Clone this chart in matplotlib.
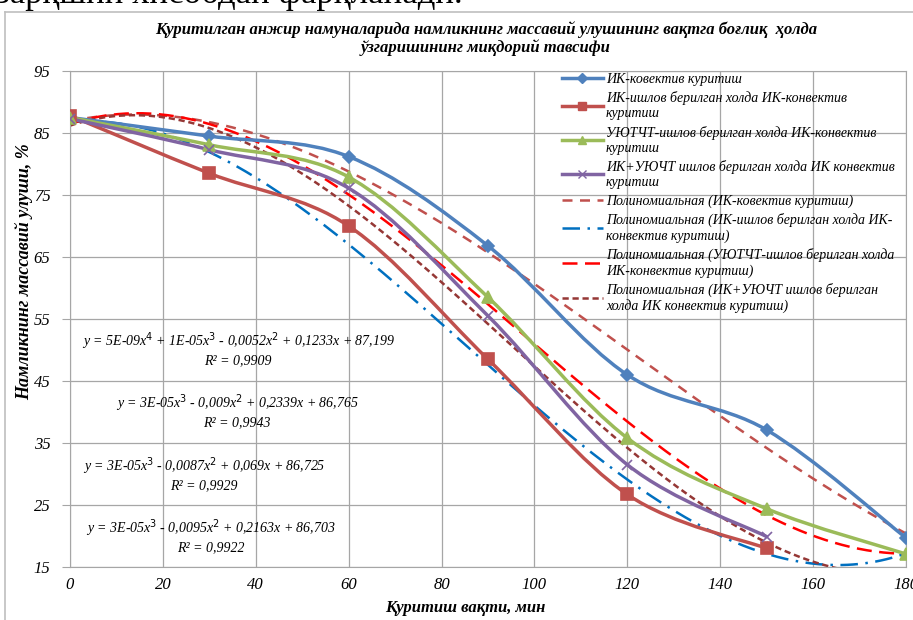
import numpy as np
import matplotlib.pyplot as plt
from matplotlib.path import Path
from matplotlib.patches import PathPatch
from matplotlib.lines import Line2D

plt.rcParams['font.family'] = ['Liberation Serif', 'DejaVu Serif']

# drying time, min
t_full = [0, 30, 60, 90, 120, 150, 180]
t_short = [0, 30, 60, 90, 120, 150]

# moisture mass fraction, %
ik_conv = [87.5, 84.5, 81.2, 66.8, 46.0, 37.1, 19.7]
ik_pre = [87.8, 78.5, 70.0, 48.5, 26.7, 18.0]
uv_pre = [87.5, 83.1, 77.9, 58.5, 35.8, 24.4, 17.1]
ik_uv_pre = [87.3, 82.3, 76.1, 55.5, 31.5, 19.9]

labels = [
    'ИК-ковектив куритиш',
    'ИК-ишлов берилган холда ИК-конвектив\nкуритиш',
    'УЮТЧТ-ишлов берилган холда ИК-конвектив\nкуритиш',
    'ИК+УЮЧТ ишлов берилган холда ИК конвектив\nкуритиш',
    'Полиномиальная (ИК-ковектив куритиш)',
    'Полиномиальная (ИК-ишлов берилган холда ИК-\nконвектив куритиш)',
    'Полиномиальная (УЮТЧТ-ишлов берилган холда\nИК-конвектив куритиш)',
    'Полиномиальная (ИК+УЮЧТ ишлов берилган\nхолда ИК конвектив куритиш)',
]

equations = [
    'y = 5E-09x$^4$ + 1E-05x$^3$ - 0,0052x$^2$ + 0,1233x + 87,199\nR² = 0,9909',
    'y = 3E-05x$^3$ - 0,009x$^2$ + 0,2339x + 86,765\nR² = 0,9943',
    'y = 3E-05x$^3$ - 0,0087x$^2$ + 0,069x + 86,725\nR² = 0,9929',
    'y = 3E-05x$^3$ - 0,0095x$^2$ + 0,2163x + 86,703\nR² = 0,9922',
]


def smooth_path(x, y):
    # excel-style smoothed line: bezier segments through the points
    pts = np.column_stack([x, y]).astype(float)
    n = len(pts)
    verts = [pts[0]]
    codes = [Path.MOVETO]
    for i in range(n - 1):
        p0 = pts[max(i - 1, 0)]
        p1 = pts[i]
        p2 = pts[i + 1]
        p3 = pts[min(i + 2, n - 1)]
        verts += [p1 + (p2 - p0) / 6, p2 - (p3 - p1) / 6, p2]
        codes += [Path.CURVE4] * 3
    return Path(verts, codes)


fig = plt.figure(figsize=(9.13, 6.2), dpi=100)
ax = fig.add_axes([70 / 913, 1 - 567 / 620, 836 / 913, 496 / 620])

series = [
    (t_full, ik_conv, '#4F81BD', 'D', 6, 4),
    (t_short, ik_pre, '#C0504D', 's', 8, 3),
    (t_full, uv_pre, '#9BBB59', '^', 8, 3),
    (t_short, ik_uv_pre, '#8064A2', 'x', 7, 3),
]
handles = []
for x, y, c, m, ms, order in series:
    ax.add_patch(PathPatch(smooth_path(x, y), fill=False, ec=c, lw=2.5,
                           capstyle='round', joinstyle='round', zorder=3))
    ax.plot(x, y, ls='none', marker=m, ms=ms, color=c, mec=c, mew=1.2, zorder=4)
    handles.append(Line2D([], [], color=c, lw=2.5, marker=m, ms=ms * 0.8, mec=c))

# polynomial trendlines
trend_styles = [
    ('#C0504D', (0, (4, 3))),
    ('#0070C0', (0, (7, 3, 1, 3))),
    ('#FF0000', (0, (6, 3))),
    ('#953735', (0, (2.5, 1.5))),
]
xx = np.linspace(0, 180, 300)
for (x, y, c, m, ms, order), (tc, ls) in zip(series, trend_styles):
    coef = np.polyfit(x, y, order)
    ax.plot(xx, np.polyval(coef, xx), color=tc, ls=ls, lw=1.8, zorder=2)
    handles.append(Line2D([], [], color=tc, ls=ls, lw=1.8))

ax.set_xlim(0, 180)
ax.set_ylim(15, 95)
ax.set_xticks(range(0, 181, 20))
ax.set_yticks(range(15, 96, 10))
ax.grid(True, color='#A6A6A6', lw=0.9)
ax.set_axisbelow(True)
for s in ax.spines.values():
    s.set_color('#A6A6A6')
ax.tick_params(axis='y', length=6, color='#A6A6A6', labelsize=12, pad=8)
ax.tick_params(axis='x', length=0, labelsize=12, pad=7)
for lab in ax.get_xticklabels() + ax.get_yticklabels():
    lab.set_style('italic')

ax.set_xlabel('Қуритиш вақти, мин', fontsize=12, fontstyle='italic',
              fontweight='bold')
ax.set_ylabel('Намликнинг массавий улуши, %', fontsize=13, fontstyle='italic',
              fontweight='bold')
ax.xaxis.set_label_coords((465 - 70) / 836, (567 - 608) / 496)
ax.yaxis.set_label_coords((24 - 70) / 836, (567 - 272) / 496)
ax.xaxis.label.set_va('center')
ax.yaxis.label.set_va('center')

fig.text(0.532, 1 - 39 / 620, 'Қуритилган анжир намуналарида намликнинг массавий улушининг вақтга боғлиқ  ҳолда\nўзгаришининг миқдорий тавсифи',
         ha='center', va='center', fontsize=12, fontstyle='italic',
         fontweight='bold', linespacing=1.1)

eq_pos = [(238, 349), (237, 411), (204, 474), (211, 536)]
for (px, py), eq in zip(eq_pos, equations):
    ax.text((px - 70) / 836, (567 - py) / 496, eq, transform=ax.transAxes,
            ha='center', va='center', fontsize=10, fontstyle='italic',
            multialignment='center', linespacing=1.2)

ax.legend(handles, labels, loc='upper left', bbox_to_anchor=(0.588, 0.996),
          frameon=False, prop={'style': 'italic', 'size': 10},
          handlelength=3.0, handletextpad=0.2, labelspacing=0.38,
          borderaxespad=0, borderpad=0)

# cropped document text above the chart and chart area border
fig.text(-0.004, 1 - 3 / 620, 'зарқшни хисобдан фарқланади.', fontsize=25,
         va='baseline', ha='left', color='black')
fig.add_artist(Line2D([5 / 913, 1], [1 - 12 / 620, 1 - 12 / 620], color='#BFBFBF', lw=1.2))
fig.add_artist(Line2D([5 / 913, 5 / 913], [0, 1 - 12 / 620], color='#BFBFBF', lw=1.2))

fig.savefig('out.png', dpi=100)
